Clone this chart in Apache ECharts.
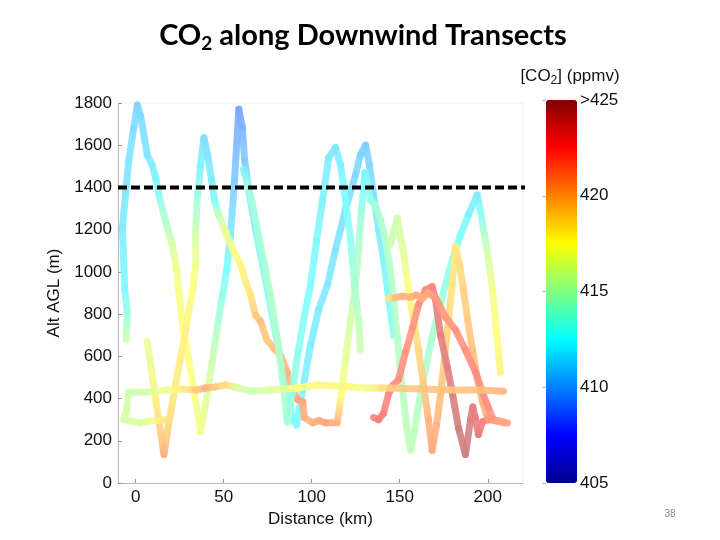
<!DOCTYPE html>
<html>
<head>
<meta charset="utf-8">
<script src="https://cdn.jsdelivr.net/npm/echarts@6/dist/echarts.min.js"></script>
<style>
  html, body { margin: 0; padding: 0; background: #fff; }
  #chart { width: 720px; height: 540px; }
</style>
</head>
<body>
<div id="chart"></div>
<script>
// transects: [distance km, altitude m AGL, CO2 ppmv]
var transectA = [
  [-5.4, 680, 415.5], [-4.8, 810, 413.5], [-6.2, 920, 412.3], [-7.5, 1210, 411.8], [-5.7, 1370, 411.5],
  [-4.0, 1520, 411.5], [-1.1, 1680, 411.2], [1.0, 1790, 410.8], [2.8, 1740, 411], [6.6, 1555, 411.5],
  [9.5, 1505, 411.8], [11.4, 1445, 412], [13.2, 1365, 413], [17, 1240, 414.5], [20.8, 1130, 416],
  [23.3, 1010, 417], [24.4, 915, 417.3], [27.2, 725, 417.5], [30.1, 585, 417.5], [33.5, 420, 417.3],
  [36.9, 245, 417], [39.7, 370, 416.5], [43.7, 585, 415.5], [47.1, 775, 414.2], [49.4, 890, 413.3],
  [51.7, 1010, 412.5], [53.9, 1175, 411.8], [56.2, 1435, 410.5], [58.6, 1770, 409], [60.6, 1685, 409.5],
  [61.9, 1530, 410.5], [64.7, 1365, 411.5], [68.1, 1200, 412], [72.1, 1035, 412.3], [75.5, 890, 412.5],
  [80.1, 680, 412.5], [85.2, 465, 412.5], [89.1, 300, 412.3], [91.4, 275, 412.3], [94.8, 440, 412],
  [99.4, 655, 411.8], [103.9, 820, 411.7], [109, 940, 411.6], [113.5, 1105, 411.5], [119.2, 1295, 411.3],
  [124.9, 1460, 411], [127.7, 1555, 410.8], [130.6, 1600, 410.5], [132.8, 1505, 411], [135.1, 1365, 411.3],
  [138, 1200, 411.7], [140.8, 1060, 412], [143.1, 915, 412.3], [145.3, 775, 412.5], [146.5, 700, 413]
];
var transectB = [
  [6.6, 670, 416.5], [11.4, 395, 418], [16.1, 135, 420.5], [18.7, 275, 419], [22.7, 465, 418.3],
  [28.4, 725, 418], [32.4, 915, 417.5], [34.1, 1035, 417], [34.1, 1200, 415.5], [35.2, 1365, 413.5],
  [36.9, 1505, 412], [38.8, 1635, 411.3], [40.9, 1555, 411.5], [43.1, 1435, 411.8], [44.8, 1340, 412.5],
  [47.1, 1270, 415], [51.1, 1190, 416.8], [55.1, 1105, 417.3], [59.6, 1035, 417.8], [63, 940, 418.2],
  [65.3, 890, 418.5], [68.1, 795, 419.5], [71, 765, 420], [74.4, 680, 419.5], [78.3, 640, 420],
  [82.3, 605, 420.3], [86.1, 525, 420.5], [89.1, 440, 420.3], [92, 395, 421], [94.8, 385, 421],
  [95.9, 310, 420.5], [100.5, 285, 420.5], [103.9, 295, 420.8], [107.9, 285, 421], [114.5, 285, 420.5],
  [116.9, 420, 417.5], [119.2, 585, 416.5], [122.1, 775, 415.8], [124.9, 940, 415], [126.6, 1105, 414.5],
  [128.3, 1295, 413.5], [130.2, 1470, 412.2], [131.7, 1415, 412.8], [133.4, 1340, 413.5], [136.3, 1310, 414],
  [139.1, 1245, 414.3], [141.9, 1150, 414.5], [144.2, 1035, 414.5], [146.5, 870, 414.5], [148.7, 680, 414.7],
  [151.6, 440, 414.8], [153.8, 275, 415], [156.1, 155, 415], [158.4, 250, 415], [161.2, 395, 414.7],
  [164.6, 535, 414.5], [168, 680, 414.2], [172, 810, 414], [176, 940, 413.5], [180, 1060, 413],
  [184.5, 1175, 412.5], [189, 1270, 412], [194, 1365, 411.8], [195.9, 1285, 412.8], [198.1, 1175, 414.5],
  [200.4, 1060, 416], [202.7, 915, 417], [204.9, 725, 417.5], [207.2, 525, 418]
];
var transectC = [
  [61.3, 1485, 412], [63.6, 1415, 413.5], [66.4, 1320, 414], [69.8, 1175, 414], [73.2, 1035, 414.2],
  [76.6, 890, 414.5], [80.6, 680, 414.5], [83.5, 490, 414.3], [86.1, 290, 414], [89.1, 440, 413.5],
  [92.5, 630, 413], [95.9, 795, 412.7], [99.4, 940, 412.5], [102.8, 1150, 412.3], [106.2, 1340, 412],
  [109.6, 1540, 411.7], [113.5, 1590, 411.5], [116.4, 1505, 412], [119.2, 1340, 412.5], [122.1, 1150, 413.2],
  [124.3, 940, 414.2], [126.6, 775, 415], [127.7, 630, 415.5]
];
var transectD = [
  [144.8, 1130, 415.5], [146.5, 1190, 415.5], [148.6, 1255, 415.7], [150.4, 1175, 416], [152.7, 1060, 416.5],
  [155, 915, 417.5], [157.8, 775, 418.5], [160.7, 630, 419], [163.5, 465, 419.5], [166.3, 300, 420.5],
  [168.4, 155, 420.8], [170.9, 275, 420.5], [173.2, 420, 420], [175.4, 585, 419.5], [177.7, 775, 419],
  [179.8, 940, 418.5], [181.7, 1120, 418.3], [183.9, 1035, 418.8], [186.2, 915, 419.3], [188.5, 775, 419.5],
  [191.3, 630, 420], [194.2, 490, 420.3], [197, 385, 420.5], [199.8, 310, 421], [204.4, 295, 421.5],
  [210, 285, 421.8]
];
var transectE = [
  [135.1, 310, 422.5], [138, 300, 423], [140.8, 330, 422.5], [143.6, 420, 422], [145.9, 460, 422],
  [149.3, 490, 421.8], [153.3, 620, 421.7], [157.3, 735, 421.6], [160.7, 845, 421.8], [164.6, 915, 422],
  [168.4, 930, 422.5], [170.3, 870, 423], [173.2, 700, 423.5], [177.1, 545, 423.7], [180, 420, 424],
  [183.4, 260, 424.3], [187.3, 135, 424.5], [190.2, 300, 424], [191.5, 360, 423.5], [192.9, 310, 423.5],
  [194.7, 230, 423.5], [197, 290, 422.5], [200.4, 300, 421.5], [206.1, 295, 421], [211.2, 285, 421]
];
var transectF = [
  [143.6, 875, 418.5], [147.6, 880, 420], [151.6, 885, 420.5], [156.1, 880, 420.3], [159.5, 890, 420.8],
  [163, 875, 420.8], [166.3, 900, 421], [170.9, 870, 421.5], [176, 785, 421.5], [181.7, 725, 421.7],
  [187.3, 630, 421.8], [193, 525, 422], [197, 430, 422], [200.4, 355, 421.8], [202.7, 310, 421.5]
];
var transectG = [
  [17, 300, 418.5], [8.5, 295, 417], [2.8, 285, 416.3], [-2.8, 295, 416], [-6.8, 300, 416],
  [-5.1, 345, 415.8], [-4.0, 430, 415.5], [5.7, 430, 415.8], [17, 440, 417], [25.5, 445, 418],
  [34.1, 440, 419.5], [39.7, 450, 420.5], [45.4, 455, 419.5], [51.1, 465, 419], [58.5, 450, 416],
  [65.3, 435, 415.5], [76.6, 440, 416], [92, 450, 417.5], [103.3, 465, 417.8], [122.1, 455, 417.8],
  [130.6, 450, 417], [139.1, 450, 418.5], [144.8, 450, 419.5], [161.8, 445, 419.8], [178.8, 440, 419.8],
  [195.9, 440, 420], [208.9, 435, 420.5]
];
var transects = [transectA, transectB, transectC, transectD, transectE, transectF, transectG];

var boundaryLayerTop = 1400;
var boundaryLineSpan = [-10, 228];
var xTicks = [0, 50, 100, 150, 200];
var co2Range = [405, 425];
var jetColors = ['#00008f', '#0000ff', '#0080ff', '#00ffff', '#80ff80', '#ffff00', '#ff8000', '#ff0000', '#800000'];

function hexRgb(h) {
  return [parseInt(h.substr(1, 2), 16), parseInt(h.substr(3, 2), 16), parseInt(h.substr(5, 2), 16)];
}
// jet colour, washed towards white like the semi-transparent markers
function jet(v, wash) {
  var t = (v - co2Range[0]) / (co2Range[1] - co2Range[0]);
  t = Math.max(0, Math.min(1, t)) * (jetColors.length - 1);
  var i = Math.min(Math.floor(t), jetColors.length - 2), f = t - i;
  var a = hexRgb(jetColors[i]), b = hexRgb(jetColors[i + 1]);
  return 'rgb(' + [0, 1, 2].map(function (k) {
    var c = a[k] + (b[k] - a[k]) * f;
    return Math.round(c + (255 - c) * wash);
  }).join(',') + ')';
}

// segments between consecutive samples
var segments = [];
transects.forEach(function (t) {
  for (var i = 0; i < t.length - 1; i++) {
    segments.push([t[i][0], t[i][1], t[i + 1][0], t[i + 1][1], t[i][2], t[i + 1][2]]);
  }
});

var font = 'Liberation Sans';
var chart = echarts.init(document.getElementById('chart'));
chart.setOption({
  backgroundColor: '#fff',
  animation: false,
  grid: [
    { left: 118, right: 197, top: 103, bottom: 57, show: true, borderColor: '#f0f0f0', borderWidth: 1 },
    { left: 546, width: 31, top: 100, height: 383 }
  ],
  xAxis: [{
    type: 'value', min: -10, max: 220,
    name: 'Distance (km)', nameLocation: 'middle', nameGap: 28,
    nameTextStyle: { fontFamily: font, fontSize: 17, color: '#111' },
    axisLine: { onZero: false, lineStyle: { color: '#bbb' } },
    axisTick: { inside: true, length: 4, lineStyle: { color: '#999' }, customValues: xTicks },
    axisLabel: { fontFamily: font, fontSize: 17, color: '#111', margin: 6, customValues: xTicks },
    splitLine: { show: false }
  }, {
    gridIndex: 1, type: 'value', min: 0, max: 1, show: false
  }],
  yAxis: [{
    type: 'value', min: 0, max: 1800, interval: 200,
    name: 'Alt AGL (m)', nameLocation: 'middle', nameGap: 46,
    nameTextStyle: { fontFamily: font, fontSize: 17, color: '#111' },
    axisLine: { show: true, onZero: false, lineStyle: { color: '#bbb' } },
    axisTick: { show: true, inside: true, length: 4, lineStyle: { color: '#999' } },
    axisLabel: { fontFamily: font, fontSize: 17, color: '#111', margin: 6, formatter: function (v) { return String(v); } },
    splitLine: { show: false }
  }, {
    gridIndex: 1, type: 'value', min: co2Range[0], max: co2Range[1], interval: 5, position: 'right',
    axisLine: { show: false },
    axisTick: { show: true, inside: true, length: 4, lineStyle: { color: 'rgba(0,0,0,0.3)' } },
    axisLabel: {
      fontFamily: font, fontSize: 17, color: '#111', margin: 3,
      formatter: function (v) { return v === co2Range[1] ? '>' + v : String(v); }
    },
    splitLine: { show: false }
  }],
  visualMap: {
    type: 'continuous', min: co2Range[0], max: co2Range[1], dimension: 4, seriesIndex: 0,
    inRange: { color: jetColors },
    orient: 'vertical', left: 546, top: 100, padding: 0,
    itemWidth: 31, itemHeight: 383, calculable: false, hoverLink: false
  },
  series: [{
    type: 'custom',
    data: segments,
    encode: { x: [0, 2], y: [1, 3] },
    renderItem: function (params, api) {
      var p1 = api.coord([api.value(0), api.value(1)]);
      var p2 = api.coord([api.value(2), api.value(3)]);
      return {
        type: 'line',
        shape: { x1: p1[0], y1: p1[1], x2: p2[0], y2: p2[1] },
        style: {
          stroke: {
            type: 'linear', x: p1[0], y: p1[1], x2: p2[0], y2: p2[1], global: true,
            colorStops: [{ offset: 0, color: jet(api.value(4), 0.5) }, { offset: 1, color: jet(api.value(5), 0.5) }]
          },
          lineWidth: 7, lineCap: 'round', opacity: 0.9
        }
      };
    }
  }, {
    type: 'line',
    data: [[boundaryLineSpan[0], boundaryLayerTop], [boundaryLineSpan[1], boundaryLayerTop]],
    symbol: 'none', clip: false, z: 5,
    lineStyle: { color: '#000', width: 4, type: [9, 4] }
  }],
  graphic: [{
    type: 'text', x: 363, y: 36,
    style: {
      text: '{t|CO}{s|2}{t| along Downwind Transects}',
      align: 'center', verticalAlign: 'middle',
      rich: {
        t: { fontFamily: 'Lato', fontWeight: 'bold', fontSize: 29, color: '#1c1c6e', lineHeight: 36 },
        s: { fontFamily: 'Lato', fontWeight: 'bold', fontSize: 19, color: '#1c1c6e', lineHeight: 36, padding: [15, 0, 0, 0] }
      }
    }
  }, {
    type: 'text', x: 570, y: 76,
    style: {
      text: '[CO{s|2}] (ppmv)',
      align: 'center', verticalAlign: 'middle',
      fontFamily: font, fontSize: 17, fill: '#111',
      rich: { s: { fontFamily: font, fontSize: 12, color: '#111', padding: [10, 0, 0, 0] } }
    }
  }, {
    type: 'text', x: 670, y: 514,
    style: { text: '38', align: 'center', verticalAlign: 'middle', fontFamily: font, fontSize: 10, fill: '#888' }
  }]
});
</script>
</body>
</html>
